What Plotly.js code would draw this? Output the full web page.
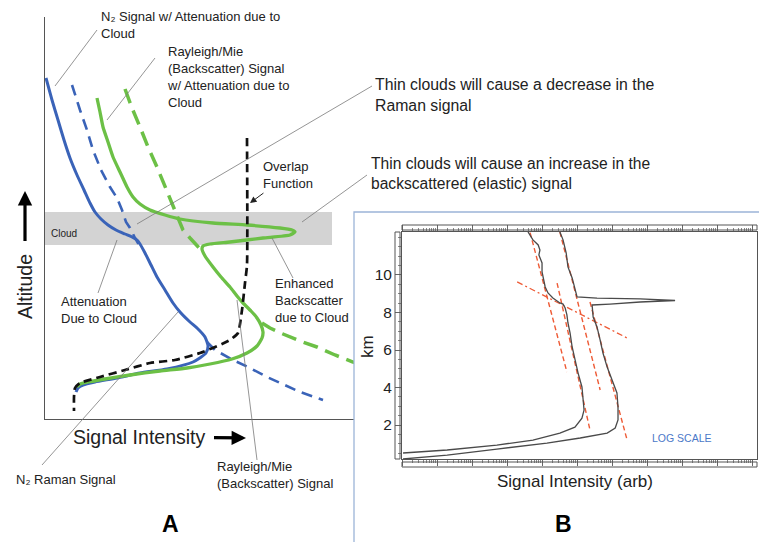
<!DOCTYPE html>
<html>
<head>
<meta charset="utf-8">
<script src="https://cdn.plot.ly/plotly-3.0.1.min.js"></script>
<style>html,body{margin:0;padding:0;background:#fff;}#chart{width:759px;height:542px;}</style>
</head>
<body>
<div id="chart"></div>
<script>
// ---------- Panel A (schematic, arbitrary units) ----------
// N2 Raman signal with cloud attenuation (solid blue)
const n2AttX = [0.1,0.7,1.3,1.9,2.5,3.2,3.9,4.5,5.0,5.6,6.3,7.1,8.0,8.7,9.2,9.5,10.0,10.6,11.2,12.0,12.8,13.5,14.5,15.2,16.0,16.3,16.1,14.8,12.2,9.5,7.2,5.0,3.8,3.3,3.1];
const n2AttY = [34.1,31.9,29.9,27.9,26.1,24.4,22.9,21.6,20.7,20.0,19.4,18.9,18.5,18.2,17.9,17.5,16.6,15.4,14.2,12.9,11.6,10.7,9.7,9.1,8.2,7.3,6.6,5.7,5.0,4.6,4.1,3.7,3.4,3.1,2.7];
// N2 Raman signal without cloud / without overlap (dashed blue)
const n2ClearX = [2.7,3.1,3.5,4.2,4.8,5.6,6.5,7.2,7.7,8.1,8.5,9.0,9.4,null,16.2,17.0,18.8,20.5,22.2,24.0,25.5,27.8];
const n2ClearY = [33.4,32.1,30.9,28.9,26.9,24.9,23.2,22.1,20.9,19.7,19.1,18.1,17.4,null,7.7,6.9,5.9,5.1,4.2,3.4,2.7,1.9];
// Rayleigh/Mie backscatter signal with cloud (solid green)
const rmAttX = [5.2,5.5,5.8,6.3,6.8,7.5,8.2,8.8,9.5,10.5,12.0,13.5,16.8,20.2,23.5,24.7,25.0,24.5,21.8,18.5,16.5,15.8,15.7,16.0,16.8,17.6,18.5,19.2,19.8,20.6,21.2,21.6,21.8,21.7,21.2,20.2,18.7,16.5,14.2,11.5,8.5,6.0,4.3,3.5,3.2];
const rmAttY = [32.1,30.7,29.2,27.7,26.2,24.7,23.2,22.2,21.5,20.9,20.4,20.0,19.6,19.4,19.1,18.9,18.7,18.4,18.1,17.7,17.5,17.3,17.0,16.3,15.2,14.2,13.2,12.3,11.6,10.8,10.1,9.4,8.7,8.1,7.3,6.6,6.0,5.5,5.1,4.8,4.4,4.0,3.7,3.5,3.2];
// Rayleigh/Mie backscatter signal without cloud / without overlap (dashed green)
const rmClearX = [8.0,8.7,9.5,10.3,11.2,12.0,12.8,13.3,13.8,14.5,15.1,15.8,null,21.7,22.5,23.8,25.5,27.2,29.0,30.8,31.7];
const rmClearY = [33.0,31.1,29.2,27.2,25.2,23.2,21.2,20.1,18.9,18.1,17.5,16.7,null,9.6,9.1,8.5,7.8,7.2,6.4,5.7,5.3];
// Overlap function (dashed black)
const overlapX = [20.2,20.2,20.0,19.7,19.3,18.5,17.7,15.5,13.0,10.5,8.0,5.5,3.5,3.0,2.9,2.9];
const overlapY = [28.1,15.4,13.6,10.9,8.6,7.9,7.5,6.6,5.9,5.6,4.9,4.2,3.6,3.1,2.2,0.8];
// Cloud layer (altitude bounds, same units)
const cloudBase = 17.4, cloudTop = 20.7, cloudRight = 28.7;

// ---------- Panel B (measured profiles; x in decades of signal, y in km) ----------
const ramanX = [3.60,3.74,3.89,3.94,3.91,4.00,4.00,4.03,4.09,4.17,4.31,4.51,4.60,4.66,4.71,4.74,4.80,4.86,4.94,5.03,5.14,5.17,5.20,5.14,4.94,4.51,3.74,2.71,1.29,0.03];
const ramanY = [12.29,11.87,11.60,11.33,11.07,10.64,10.16,9.84,9.36,9.04,8.77,8.51,8.45,8.24,7.87,7.44,6.91,6.16,5.47,4.77,4.03,3.33,2.80,2.37,1.89,1.57,1.20,0.93,0.67,0.51];
const elasticX = [4.51,4.60,4.69,4.74,4.86,4.94,5.00,5.57,6.80,7.80,6.80,5.94,5.43,5.46,5.57,5.66,5.74,5.86,6.00,6.14,6.17,6.17,6.09,5.86,5.09,4.14,2.71,1.29,0.03];
const elasticY = [12.29,11.87,11.17,10.43,9.84,9.20,8.83,8.77,8.72,8.64,8.56,8.45,8.40,7.76,7.23,6.53,5.84,5.09,4.40,3.71,2.96,2.27,1.84,1.57,1.31,1.04,0.72,0.40,0.19];
// Fitted slope lines (red dashed) and crossing line (red dash-dot)
const fitX = [3.60,4.71,null,4.43,5.37,null,4.51,5.66,null,5.37,6.43];
const fitY = [12.67,4.83,null,9.57,1.73,null,12.29,3.87,null,8.56,1.20];
const crossX = [3.29,6.43];
const crossY = [9.63,6.64];
const kmTicks = [2,4,6,8,10];
const kmLabels = ['2','4','6','8','10'];

// ---------- helpers for paper placement ----------
const W = 759, H = 542;
const X = px => px / W;
const Y = py => 1 - py / H;
const FONT = 'Liberation Sans, Arial, sans-serif';
const TXT = '#222';

const blue = '#3A63B8', green = '#6CC046';

const traces = [
  {x:n2ClearX, y:n2ClearY, xaxis:'x', yaxis:'y', mode:'lines', connectgaps:false,
   line:{color:blue, width:2.6, dash:'11px,7px'}, hoverinfo:'skip'},
  {x:rmClearX, y:rmClearY, xaxis:'x', yaxis:'y', mode:'lines', connectgaps:false,
   line:{color:green, width:3.5, dash:'15px,8px'}, hoverinfo:'skip'},
  {x:n2AttX, y:n2AttY, xaxis:'x', yaxis:'y', mode:'lines',
   line:{color:blue, width:3, shape:'spline', smoothing:0.6}, hoverinfo:'skip'},
  {x:rmAttX, y:rmAttY, xaxis:'x', yaxis:'y', mode:'lines',
   line:{color:green, width:3.3, shape:'spline', smoothing:0.5}, hoverinfo:'skip'},
  {x:overlapX, y:overlapY, xaxis:'x', yaxis:'y', mode:'lines',
   line:{color:'#111', width:2.7, dash:'8px,5px', shape:'spline', smoothing:0.5}, hoverinfo:'skip'},
  // Panel B
  {x:fitX, y:fitY, xaxis:'x2', yaxis:'y2', mode:'lines', connectgaps:false,
   line:{color:'#EE5A35', width:1.4, dash:'5px,3px'}, hoverinfo:'skip'},
  {x:crossX, y:crossY, xaxis:'x2', yaxis:'y2', mode:'lines',
   line:{color:'#EE5A35', width:1.3, dash:'6px,3px,2px,3px'}, hoverinfo:'skip'},
  {x:ramanX, y:ramanY, xaxis:'x2', yaxis:'y2', mode:'lines',
   line:{color:'#4a4a4a', width:1.3}, hoverinfo:'skip'},
  {x:elasticX, y:elasticY, xaxis:'x2', yaxis:'y2', mode:'lines',
   line:{color:'#4a4a4a', width:1.3}, hoverinfo:'skip'}
];

// minor tick positions of the log-decade ruler
const minorX = [];
for (let d = 0; d < 11; d++) for (let m = 2; m <= 9; m++) { const v = d + Math.log10(m); if (v <= 10.14) minorX.push(v); }

const leader = (x0,y0,x1,y1) => ({type:'line', xref:'paper', yref:'paper', x0:X(x0), y0:Y(y0), x1:X(x1), y1:Y(y1), line:{color:'#7a7a7a', width:0.8}});
const rect = (x0,y0,x1,y1) => ({type:'rect', xref:'paper', yref:'paper', x0:X(x0), y0:Y(y0), x1:X(x1), y1:Y(y1), line:{color:'#555', width:1}, fillcolor:'rgba(0,0,0,0)'});

const shapes = [
  {type:'rect', xref:'x', yref:'y', x0:0, x1:cloudRight, y0:cloudBase, y1:cloudTop, layer:'below', fillcolor:'#d3d3d3', line:{width:0}},
  leader(97,30,55,86),
  leader(155,58,107,120),
  leader(372,86,137,224),
  leader(367,175,302,222),
  leader(98,293,117,240),
  leader(293,278,272,238),
  leader(42,465,178,312),
  leader(257,460,237,300),
  {type:'path', xref:'paper', yref:'paper', path:`M ${X(354)} ${Y(545)} L ${X(354)} ${Y(212)} L ${X(762)} ${Y(212)}`, line:{color:'#9CB4D8', width:1.3}},
  rect(402,225,757,230),
  rect(402,462,757,467),
  rect(395,232,400,459)
];

const ann = (px, py, text, size, extra) => Object.assign({xref:'paper', yref:'paper', x:X(px), y:Y(py), text:text, showarrow:false,
  xanchor:'left', yanchor:'middle', align:'left', font:{family:FONT, size:size, color:TXT}}, extra||{});

// text annotations that carry an arrow: x,y = arrow tip, ax/ay = offset of the text centre in pixels
const arrowAnn = (tipX, tipY, cX, cY, text, size, extra) => Object.assign({xref:'paper', yref:'paper', x:X(tipX), y:Y(tipY),
  ax:cX - tipX, ay:cY - tipY, text:text, showarrow:true, standoff:0, align:'left',
  font:{family:FONT, size:size, color:TXT}}, extra||{});

const annotations = [
  ann(99,25,'N₂ Signal w/ Attenuation due to<br>Cloud',13),
  ann(165,77,'Rayleigh/Mie<br>(Backscatter) Signal<br>w/ Attenuation due to<br>Cloud',13),
  ann(373,95,'Thin clouds will cause a decrease in the<br>Raman signal',15.8),
  ann(369,173,'Thin clouds will cause an increase in the<br>backscattered (elastic) signal',15.6),
  ann(49,233,'Cloud',10),
  ann(59,310,'Attenuation<br>Due to Cloud',13),
  ann(273,300,'Enhanced<br>Backscatter<br>due to Cloud',13),
  ann(14,479,'N₂ Raman Signal',13),
  ann(215,475,'Rayleigh/Mie<br>(Backscatter) Signal',13),
  ann(170,524,'<b>A</b>',23,{xanchor:'center', font:{family:FONT, size:23, color:'#000'}}),
  ann(563,524,'<b>B</b>',23,{xanchor:'center', font:{family:FONT, size:23, color:'#000'}}),
  ann(367,347,'km',17,{xanchor:'center', textangle:-90}),
  ann(575,482,'Signal Intensity (arb)',17,{xanchor:'center'}),
  ann(682,438,'LOG SCALE',10.5,{xanchor:'center', font:{family:FONT, size:10.5, color:'#4A78C8'}}),
  // labels with arrows
  arrowAnn(246,438,138.5,437,'Signal Intensity',19.5,{arrowhead:2, arrowsize:0.9, arrowwidth:3.2, arrowcolor:'#000', startstandoff:8}),
  arrowAnn(25,191,25,287,'Altitude',19.5,{textangle:-90, arrowhead:2, arrowsize:0.9, arrowwidth:3.2, arrowcolor:'#000', startstandoff:12}),
  arrowAnn(250,203,288,175,'Overlap<br>Function',13,{arrowhead:2, arrowsize:1.3, arrowwidth:1, arrowcolor:'#222', startstandoff:1})
];

const hidden = {showgrid:false, zeroline:false, showticklabels:false, ticks:'', fixedrange:true};

const layout = {
  width:W, height:H, margin:{l:0, r:0, t:0, b:0},
  paper_bgcolor:'#fff', plot_bgcolor:'rgba(0,0,0,0)', showlegend:false,
  font:{family:FONT, color:TXT},
  xaxis: Object.assign({domain:[X(45), X(354)], range:[0,30.9], anchor:'y', showline:true, linecolor:'#555', linewidth:1.2}, hidden),
  yaxis: Object.assign({domain:[Y(419), Y(17)], range:[0,40.2], anchor:'x', showline:true, linecolor:'#555', linewidth:1.2}, hidden),
  xaxis2: {domain:[X(402), X(757)], range:[0,10.14], anchor:'y2', showline:true, mirror:'allticks', linecolor:'#555', linewidth:1,
    showgrid:false, zeroline:false, showticklabels:false, ticks:'outside', ticklen:6, tickcolor:'#666', tickwidth:1, tick0:0, dtick:1,
    minor:{tickmode:'array', tickvals:minorX, ticks:'outside', ticklen:3, tickcolor:'#888', tickwidth:1}, fixedrange:true},
  yaxis2: {domain:[Y(459), Y(232)], range:[0.19,12.29], anchor:'x2', showline:true, mirror:true, linecolor:'#555', linewidth:1,
    showgrid:false, zeroline:false, tickmode:'array', tickvals:kmTicks, ticktext:kmLabels, ticks:'outside', ticklen:6, tickcolor:'#666',
    tickfont:{family:FONT, size:15.5, color:TXT},
    minor:{dtick:0.5, ticks:'outside', ticklen:3, tickcolor:'#888'}, fixedrange:true},
  shapes: shapes,
  annotations: annotations
};

Plotly.newPlot('chart', traces, layout, {staticPlot:true, displayModeBar:false});
</script>
</body>
</html>
